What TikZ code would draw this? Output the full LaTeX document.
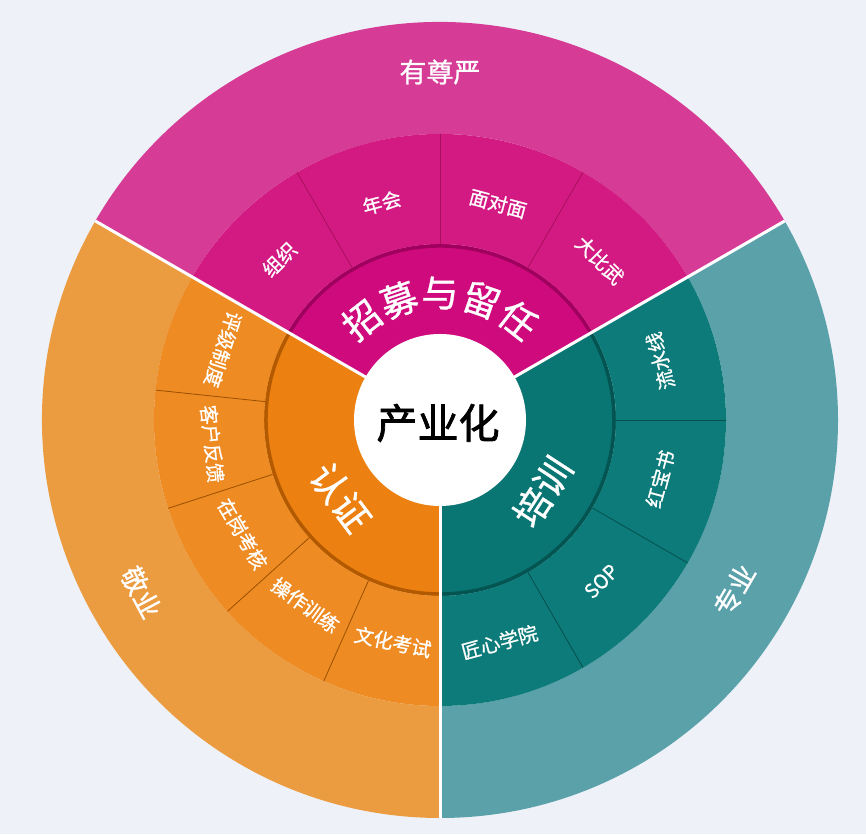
\documentclass[tikz,border=0pt]{standalone}
\usepackage{fontspec}
\newfontfamily\cjk[FakeBold=0.9]{Noto Sans CJK SC}
\newfontfamily\cjkb[FakeBold=1.8]{Noto Sans CJK SC}
\definecolor{bgc}{RGB}{238,242,248}
\definecolor{magO}{RGB}{214,60,150}
\definecolor{magM}{RGB}{211,26,130}
\definecolor{magI}{RGB}{206,10,125}
\definecolor{magD}{RGB}{160,0,94}
\definecolor{magL}{RGB}{168,16,94}
\definecolor{orgO}{RGB}{236,156,64}
\definecolor{orgM}{RGB}{238,139,34}
\definecolor{orgI}{RGB}{236,128,16}
\definecolor{orgD}{RGB}{179,90,0}
\definecolor{orgL}{RGB}{154,80,0}
\definecolor{tealO}{RGB}{91,161,169}
\definecolor{tealM}{RGB}{13,123,121}
\definecolor{tealI}{RGB}{10,118,115}
\definecolor{tealD}{RGB}{4,85,82}
\definecolor{tealL}{RGB}{5,80,78}
\newcommand\annwedge[5]{\fill[#1] (#2:#4) arc[start angle=#2,end angle=#3,radius=#4] -- (#3:#5) arc[start angle=#3,end angle=#2,radius=#5] -- cycle;}
\tikzset{
  lbl/.style={text=white, font=\cjk\fontsize{19.5}{19.5}\selectfont, inner sep=0pt},
  outlbl/.style={text=white, font=\cjk\fontsize{27}{27}\selectfont, inner sep=0pt},
  biglbl/.style={text=white, font=\cjk\fontsize{37}{37}\selectfont, inner sep=0pt},
  sublinestyle/.style={line width=0.8pt},
  divider/.style={white, line width=3pt},
}
\begin{document}
\begin{tikzpicture}[x=1pt,y=1pt]
\useasboundingbox (0,0) rectangle (866,834);
\fill[bgc] (0,0) rectangle (866,834);
\begin{scope}[shift={(440,414)}]
% outer ring
\annwedge{magO}{30}{150}{398pt}{286pt}
\annwedge{orgO}{150}{270}{398pt}{286pt}
\annwedge{tealO}{-90}{30}{398pt}{286pt}
% ring 2
\annwedge{magM}{30}{150}{286pt}{176pt}
\annwedge{orgM}{150}{270}{286pt}{176pt}
\annwedge{tealM}{-90}{30}{286pt}{176pt}
% inner ring
\annwedge{magI}{30}{150}{176pt}{80pt}
\annwedge{orgI}{150}{270}{176pt}{80pt}
\annwedge{tealI}{-90}{30}{176pt}{80pt}
% dark rims
\draw[magD, line width=3.5pt] (30:174pt) arc[start angle=30,end angle=150,radius=174pt];
\draw[orgD, line width=3.5pt] (150:174pt) arc[start angle=150,end angle=270,radius=174pt];
\draw[tealD, line width=3.5pt] (-90:174pt) arc[start angle=-90,end angle=30,radius=174pt];
% sub dividers in ring 2
\foreach \a in {60,90,120}{\draw[magL, sublinestyle] (\a:176pt) -- (\a:286pt);}
\foreach \a in {174,198,222,246}{\draw[orgL, sublinestyle] (\a:176pt) -- (\a:286pt);}
\foreach \a in {-60,-30,0}{\draw[tealL, sublinestyle] (\a:176pt) -- (\a:286pt);}
% white dividers
\foreach \a in {30,150,270}{\draw[divider] (\a:80pt) -- (\a:398pt);}
% centre circle
\fill[white] (0,0) circle[radius=86pt];
\node[inner sep=0pt, font=\cjkb\fontsize{41}{41}\selectfont, text=black] (core) at (-2,-3) {产业化};
% outer labels
\node[outlbl] (o1) at (90:348pt) {有尊严};
\node[outlbl, rotate=-62] (o2) at (210:345pt) {敬业};
\node[outlbl, rotate=60] (o3) at (-30:340pt) {专业};
% inner ring labels
\foreach \ch/\a [count=\i] in {招/128,募/109,与/90,留/71,任/52}{
  \node[biglbl, rotate=\a-90] (z\i) at (\a:127pt) {\ch};
}
\node[biglbl, rotate=-53] (rz) at (218:126pt) {认证};
\node[biglbl, rotate=57] (px) at (-35:125pt) {培训};
% ring 2 labels top
\node[lbl, rotate=45] (t1) at (135:227pt) {组织};
\node[lbl, rotate=15] (t2) at (105:225pt) {年会};
\node[lbl, rotate=-15] (t3) at (75:224pt) {面对面};
\node[lbl, rotate=-45] (t4) at (45:226pt) {大比武};
% ring 2 labels left
\node[lbl, rotate=-108] (l1) at (162:228pt) {评级制度};
\node[lbl, rotate=-84] (l2) at (186:229pt) {客户反馈};
\node[lbl, rotate=-60] (l3) at (210:228pt) {在岗考核};
\node[lbl, rotate=-36] (l4) at (234:229pt) {操作训练};
\node[lbl, rotate=-12] (l5) at (258:227pt) {文化考试};
% ring 2 labels right
\node[lbl, rotate=105] (r1) at (15:228pt) {流水线};
\node[lbl, rotate=75] (r2) at (-15:228pt) {红宝书};
\node[lbl, rotate=45] (r3) at (-45:228pt) {SOP};
\node[lbl, rotate=15] (r4) at (-75:230pt) {匠心学院};
\end{scope}
\end{tikzpicture}
\end{document}
